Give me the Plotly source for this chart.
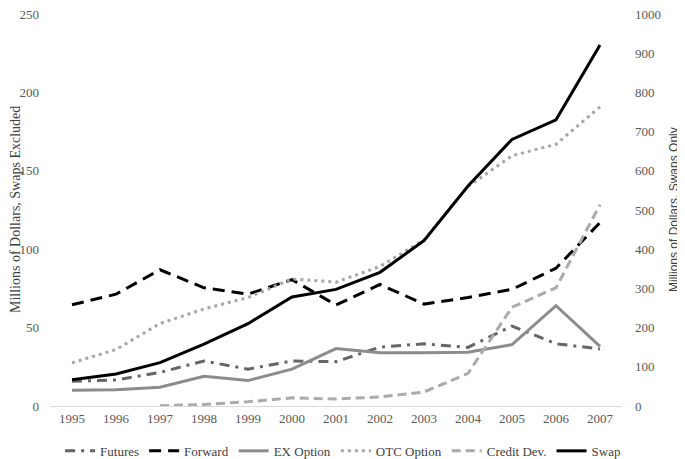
import plotly.graph_objects as go

years = ["1995", "1996", "1997", "1998", "1999", "2000", "2001",
         "2002", "2003", "2004", "2005", "2006", "2007"]

futures = [15.8, 16.6, 21.4, 28.7, 23.5, 28.7, 28.3, 37.5, 39.7, 37.4, 51.0, 39.7, 36.4]
forward = [64.6, 71.3, 86.9, 75.4, 71.3, 80.6, 64.4, 77.5, 65.0, 69.2, 74.4, 87.9, 117.0]
ex_option = [10.0, 10.4, 12.0, 18.9, 16.2, 23.5, 36.6, 33.9, 33.9, 34.3, 39.1, 64.0, 38.0]
otc_option = [27.6, 36.0, 52.6, 61.9, 69.2, 81.0, 79.0, 89.0, 106.0, 140.0, 159.6, 166.9, 190.8]
credit_dev = [None, None, 0.2, 1.0, 2.7, 5.2, 4.4, 5.8, 8.9, 20.8, 63.0, 75.4, 128.4]
swap = [67, 81.5, 110.5, 158, 210, 278, 297.5, 341, 422, 561, 680, 730, 921]

left_ticks = [0, 50, 100, 150, 200, 250]
right_ticks = [0, 100, 200, 300, 400, 500, 600, 700, 800, 900, 1000]

serif = "Liberation Serif, Times New Roman, serif"
tick_col = "#595959"

fig = go.Figure()
fig.add_trace(go.Scatter(x=years, y=futures, name="Futures", mode="lines",
                         line=dict(color="#666666", width=3, dash="10px,6px,3px,6px")))
fig.add_trace(go.Scatter(x=years, y=forward, name="Forward", mode="lines",
                         line=dict(color="#000000", width=3, dash="12px,7px")))
fig.add_trace(go.Scatter(x=years, y=ex_option, name="EX Option", mode="lines",
                         line=dict(color="#8c8c8c", width=3)))
fig.add_trace(go.Scatter(x=years, y=otc_option, name="OTC Option", mode="lines",
                         line=dict(color="#a6a6a6", width=3, dash="3px,4px")))
fig.add_trace(go.Scatter(x=years, y=credit_dev, name="Credit Dev.", mode="lines",
                         line=dict(color="#ababab", width=3, dash="9px,5px")))
fig.add_trace(go.Scatter(x=years, y=swap, name="Swap", mode="lines", yaxis="y2",
                         line=dict(color="#000000", width=3)))

# The page body has an 8px default margin, so the figure is sized and
# offset to land in the 685x459 window.
fig.update_layout(
    width=677, height=451,
    margin=dict(l=42, r=63, t=6, b=53, autoexpand=False),
    paper_bgcolor="white", plot_bgcolor="white",
    font=dict(family=serif, size=13, color=tick_col),
    showlegend=True,
    legend=dict(orientation="h", x=0.495, xanchor="center", xref="container",
                y=0.018, yanchor="middle", yref="container",
                font=dict(family=serif, size=13, color="#404040"),
                itemwidth=30, tracegroupgap=0),
    xaxis=dict(type="category", range=[-0.5, 12.5], showgrid=False, showline=True,
               linecolor="#d9d9d9", linewidth=1, ticks="", automargin=False,
               tickfont=dict(family=serif, size=13, color=tick_col), zeroline=False),
    yaxis=dict(range=[0, 250], tickvals=left_ticks, showgrid=False, zeroline=False,
               showline=False, ticks="", ticklabelstandoff=10, automargin=False,
               ticklabeloverflow="allow",
               tickfont=dict(family=serif, size=13, color=tick_col)),
    yaxis2=dict(range=[0, 1000], tickvals=right_ticks, overlaying="y", side="right",
                showgrid=False, zeroline=False, showline=False, ticks="",
                ticklabelstandoff=12, automargin=False, ticklabeloverflow="allow",
                tickfont=dict(family=serif, size=13, color=tick_col)),
    annotations=[
        dict(text="Millions of Dollars, Swaps Excluded", xref="paper", yref="paper",
             x=0, y=0.5, xanchor="center", yanchor="middle", xshift=-35,
             textangle=-90, showarrow=False,
             font=dict(family=serif, size=14, color="#404040")),
        dict(text="Millions of Dollars, Swaps Only", xref="paper", yref="paper",
             x=1, y=0.5, xanchor="center", yanchor="middle", xshift=52,
             textangle=-90, showarrow=False,
             font=dict(family="Liberation Sans, Arial, sans-serif", size=12, color="#404040")),
    ],
)

fig.write_html("out.html")
